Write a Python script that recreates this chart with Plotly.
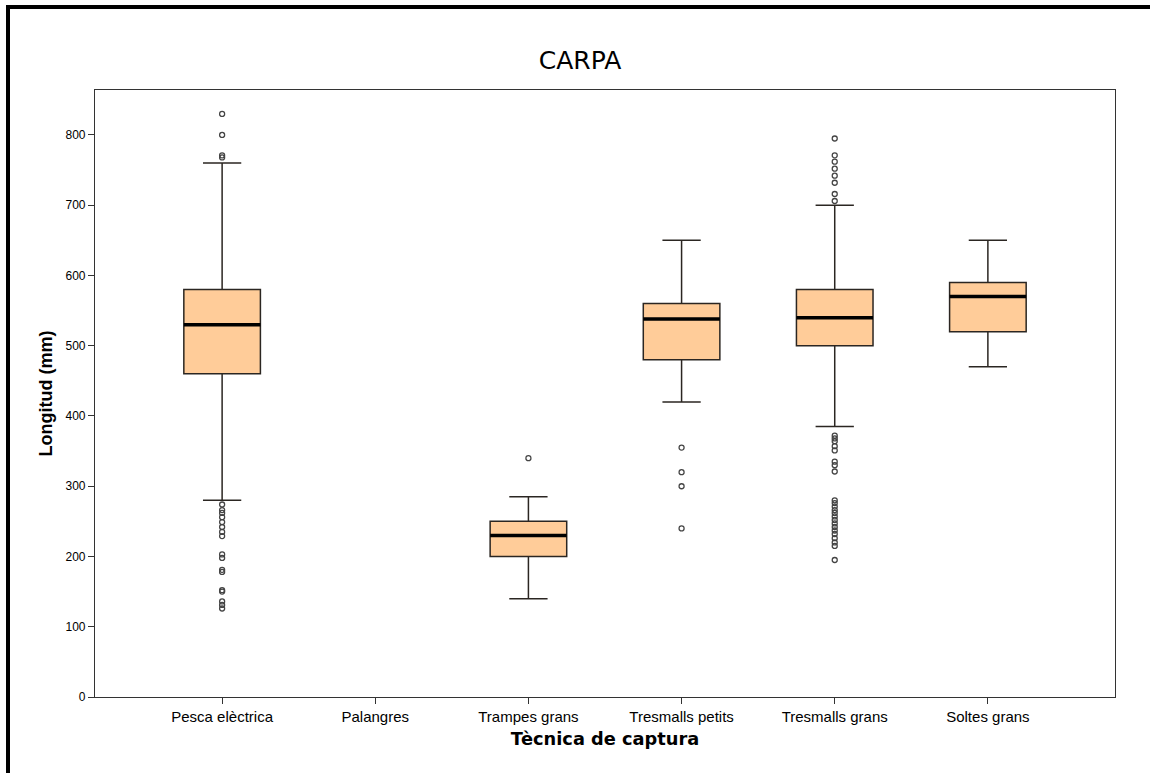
import plotly.graph_objects as go

# Boxplot of carp length by capture technique
categories = ["Pesca elèctrica", "Palangres", "Trampes grans",
              "Tresmalls petits", "Tresmalls grans", "Soltes grans"]

q1 = [460, None, 200, 480, 500, 520]
median = [530, None, 230, 538, 540, 570]
q3 = [580, None, 250, 560, 580, 590]
lower_fence = [280, None, 140, 420, 385, 470]
upper_fence = [760, None, 285, 650, 700, 650]

outliers = [
    [830, 800, 771, 768, 274, 266, 262, 256, 249, 242, 235, 229,
     203, 198, 181, 178, 152, 150, 136, 131, 126],
    [],
    [340],
    [355, 320, 300, 240],
    [795, 771, 762, 752, 742, 732, 716, 706,
     372, 368, 364, 357, 351, 335, 330, 321,
     280, 276, 271, 266, 262, 257, 252, 247, 242, 237, 232, 226, 220, 215, 195],
    [],
]

y_ticks = [0, 100, 200, 300, 400, 500, 600, 700, 800]

box_fill = "#FFCC99"
box_width = 0.5

fig = go.Figure()

idx = [i for i in range(len(categories)) if median[i] is not None]

fig.add_trace(go.Box(
    x=idx,
    q1=[q1[i] for i in idx],
    median=[median[i] for i in idx],
    q3=[q3[i] for i in idx],
    lowerfence=[lower_fence[i] for i in idx],
    upperfence=[upper_fence[i] for i in idx],
    width=box_width,
    whiskerwidth=0.5,
    fillcolor=box_fill,
    line=dict(color="#2b2622", width=1.5),
    boxpoints=False,
    hoverinfo="skip",
    showlegend=False,
))

# Thick median bars on top of the boxes
for i in idx:
    fig.add_trace(go.Scatter(
        x=[i - box_width / 2, i + box_width / 2],
        y=[median[i], median[i]],
        mode="lines",
        line=dict(color="black", width=3.5),
        hoverinfo="skip",
        showlegend=False,
    ))

# Outlier points
ox, oy = [], []
for i, vals in enumerate(outliers):
    ox += [i] * len(vals)
    oy += vals
fig.add_trace(go.Scatter(
    x=ox, y=oy,
    mode="markers",
    marker=dict(symbol="circle-open", size=5, color="#444444",
                line=dict(width=1.3)),
    hoverinfo="skip",
    showlegend=False,
))

ml, mr, mt, mb = 95, 35, 90, 76
W, H = 1150, 773
pw, ph = W - ml - mr, H - mt - mb

def px_to_paper_x(px):
    return (px - ml) / pw

def px_to_paper_y(py):
    return 1 - (py - mt) / ph

# Outer frame lines (left and top)
shapes = [
    dict(type="line", xref="paper", yref="paper",
         x0=px_to_paper_x(8), x1=px_to_paper_x(8),
         y0=px_to_paper_y(5), y1=px_to_paper_y(H + 5),
         line=dict(color="black", width=4)),
    dict(type="line", xref="paper", yref="paper",
         x0=px_to_paper_x(6), x1=px_to_paper_x(W + 5),
         y0=px_to_paper_y(7), y1=px_to_paper_y(7),
         line=dict(color="black", width=4)),
]

fig.update_layout(
    width=W, height=H,
    margin=dict(l=ml, r=mr, t=mt, b=mb, pad=0),
    paper_bgcolor="white",
    plot_bgcolor="white",
    shapes=shapes,
    title=dict(text="CARPA", x=px_to_paper_x(580), xref="paper",
               y=1 - 60 / H, yref="container", xanchor="center",
               yanchor="middle",
               font=dict(family="DejaVu Sans", size=25, color="black")),
    font=dict(family="Liberation Sans, Arial", size=12, color="black"),
    xaxis=dict(
        range=[-0.83, 5.83],
        tickmode="array",
        tickvals=list(range(len(categories))),
        ticktext=categories,
        ticks="outside", ticklen=6, tickcolor="#333",
        showline=True, linecolor="#333", linewidth=1.2, mirror=True,
        showgrid=False, zeroline=False,
        tickfont=dict(size=15),
        title=dict(text="<b>Tècnica de captura</b>", standoff=8,
                   font=dict(family="DejaVu Sans", size=17.8)),
    ),
    yaxis=dict(
        range=[0, 864],
        tickmode="array",
        tickvals=y_ticks,
        ticks="outside", ticklen=6, tickcolor="#333",
        showline=True, linecolor="#333", linewidth=1.2, mirror=True,
        showgrid=False, zeroline=False,
        tickfont=dict(size=12),
        title=dict(text="<b>Longitud (mm)</b>", standoff=8,
                   font=dict(family="Liberation Sans, Arial", size=18)),
    ),
)

fig.write_html("out.html")
